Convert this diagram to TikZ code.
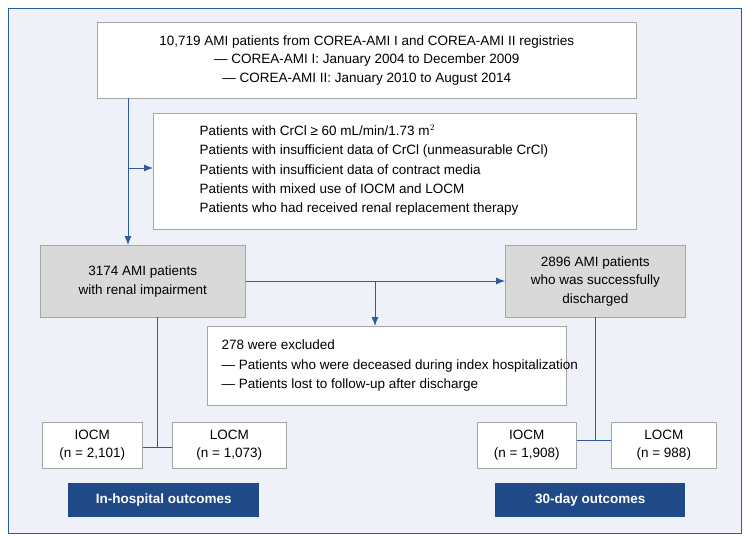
\documentclass[tikz,border=0pt]{standalone}
\usepackage{fontspec}
\setmainfont{Liberation Sans}
\usetikzlibrary{arrows.meta}
\definecolor{ln}{HTML}{2C5C9C}
\definecolor{bg}{HTML}{EEF2F8}
\definecolor{dk}{HTML}{1F4A87}
\definecolor{gr}{HTML}{D9D9D9}
\begin{document}
\begin{tikzpicture}[x=1pt,y=-1pt,font=\fontsize{13.5}{18.5}\selectfont,
  box/.style={draw=gray!70,fill=white,line width=0.6pt,inner sep=0pt},
  gbox/.style={box,fill=gr},
  lab/.style={fill=dk,text=white,font=\fontsize{13.5}{15}\selectfont\bfseries,inner sep=0pt},
  con/.style={draw=ln,line width=0.9pt},
  arr/.style={con,-{Latex[length=9pt,width=7pt]}}]
\useasboundingbox (0,0) rectangle (749,541);
\draw[ln,fill=bg,line width=0.8pt] (8,8) rectangle (741,533);
\node[box,minimum width=539,minimum height=76,anchor=north west,align=center] (top) at (97,22)
 {10,719 AMI patients from COREA-AMI I and COREA-AMI II registries\\
  — COREA-AMI I: January 2004 to December 2009\\
  — COREA-AMI II: January 2010 to August 2014};
\node[box,minimum width=483,minimum height=116,anchor=north west] (ex) at (153,113) {};
\node[anchor=west,align=left,font=\fontsize{13.5}{19.2}\selectfont] at (196,170)
 {Patients with CrCl ≥ 60 mL/min/1.73 m$^{2}$\\
  Patients with insufficient data of CrCl (unmeasurable CrCl)\\
  Patients with insufficient data of contract media\\
  Patients with mixed use of IOCM and LOCM\\
  Patients who had received renal replacement therapy};
\node[gbox,minimum width=205,minimum height=72,anchor=north west,align=center] (a) at (40,245)
 {3174 AMI patients\\with renal impairment};
\node[gbox,minimum width=180,minimum height=72,anchor=north west,align=center] (b) at (505,245)
 {2896 AMI patients\\who was successfully\\discharged};
\node[box,minimum width=359,minimum height=79,anchor=north west] (c) at (207,326) {};
\node[anchor=west,align=left,font=\fontsize{13.5}{19.5}\selectfont] at (218,366)
 {278 were excluded\\
  — Patients who were deceased during index hospitalization\\
  — Patients lost to follow-up after discharge};
\node[box,minimum width=100,minimum height=46,anchor=north west,align=center] (i1) at (42,422) {IOCM\\(n = 2,101)};
\node[box,minimum width=114,minimum height=46,anchor=north west,align=center] (l1) at (172,422) {LOCM\\(n = 1,073)};
\node[box,minimum width=99,minimum height=46,anchor=north west,align=center] (i2) at (477,422) {IOCM\\(n = 1,908)};
\node[box,minimum width=105,minimum height=46,anchor=north west,align=center] (l2) at (611,422) {LOCM\\(n = 988)};
\node[lab,minimum width=191,minimum height=34,anchor=north west] (o1) at (68,483) {In-hospital outcomes};
\node[lab,minimum width=190,minimum height=34,anchor=north west] (o2) at (495,483) {30-day outcomes};
\coordinate (t1) at (128,98);
\coordinate (t2) at (128,168);
\draw[arr] (t1) -- (128,245);
\draw[arr] (t2) -- (ex.west|-t2);
\coordinate (m) at (375,281);
\draw[arr] (a.east|-m) -- (b.west|-m);
\draw[arr] (m) -- (c.north-|m);
\coordinate (p1) at (157,447);
\draw[con] (157,317) -- (p1);
\draw[con] (i1.east|-p1) -- (l1.west|-p1);
\coordinate (p2) at (595,440);
\draw[con] (595,317) -- (p2);
\draw[con] (i2.east|-p2) -- (l2.west|-p2);
\end{tikzpicture}
\end{document}
